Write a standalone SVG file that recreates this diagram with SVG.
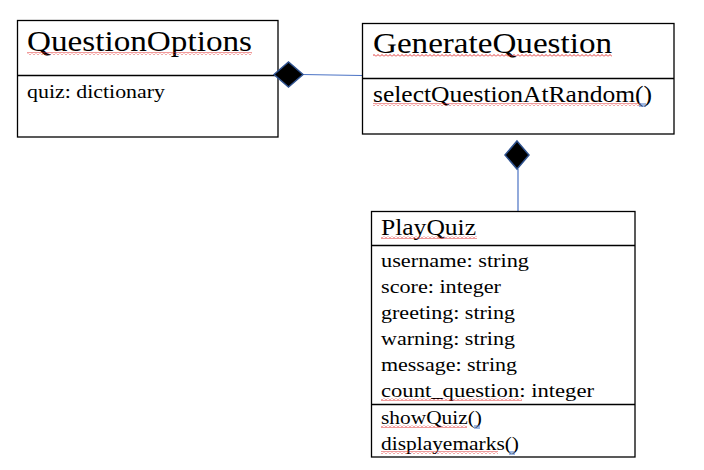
<svg xmlns="http://www.w3.org/2000/svg" width="704" height="470" viewBox="0 0 704 470">
<style>
.box{fill:#fff;stroke:#000;stroke-width:1.3}
.div{stroke:#000;stroke-width:1.3}
.t{font-family:"Liberation Serif","Times New Roman",serif;fill:#000}
.big{font-size:29.5px}
.mid{font-size:23px}
.pq{font-size:24px}
.sm{font-size:19.5px}
.conn{stroke:#4a72c4;stroke-width:1.2;fill:none}
.dia{fill:#000;stroke:#2f528f;stroke-width:1.5}
.sq{fill:url(#wave)}
.bl{stroke:#4472c4;stroke-width:1}
</style>
<defs>
<pattern id="wave" width="4" height="3" patternUnits="userSpaceOnUse">
<path d="M0,2.5 L2,0.5 L4,2.5" stroke="#e02020" stroke-width="0.9" fill="none"/>
</pattern>
</defs>
<rect width="704" height="470" fill="#fff"/>
<g id="connectors">
<line class="conn" x1="302" y1="74.5" x2="362" y2="75.5"/>
<line class="conn" x1="518" y1="169" x2="518" y2="211"/>
</g>
<g id="QuestionOptions">
<rect class="box" x="17.5" y="20.5" width="260.5" height="116.5"/>
<line class="div" x1="17.5" y1="75.5" x2="278" y2="75.5"/>
<text class="t big" x="27" y="51" textLength="225" lengthAdjust="spacingAndGlyphs">QuestionOptions</text>
<rect class="sq" x="27" y="52" width="225" height="3"/>
<text class="t sm" x="27" y="97.5" textLength="138" lengthAdjust="spacingAndGlyphs">quiz: dictionary</text>
</g>
<g id="GenerateQuestion">
<rect class="box" x="362.5" y="23.5" width="311.5" height="110.5"/>
<line class="div" x1="362.5" y1="78.5" x2="674" y2="78.5"/>
<text class="t big" x="373" y="52.5" textLength="239" lengthAdjust="spacingAndGlyphs">GenerateQuestion</text>
<rect class="sq" x="373" y="54" width="239" height="3"/>
<text class="t mid" x="373" y="102" textLength="279" lengthAdjust="spacingAndGlyphs">selectQuestionAtRandom()</text>
<rect class="sq" x="373" y="103" width="268" height="3"/>
<line class="bl" x1="639" y1="104" x2="646" y2="104"/>
<line class="bl" x1="639" y1="106" x2="646" y2="106"/>
</g>
<g id="PlayQuiz">
<rect class="box" x="371.5" y="211.5" width="263.5" height="245.5"/>
<line class="div" x1="371.5" y1="245.5" x2="635" y2="245.5"/>
<line class="div" x1="371.5" y1="404.5" x2="635" y2="404.5"/>
<text class="t pq" x="381" y="235" textLength="95" lengthAdjust="spacingAndGlyphs">PlayQuiz</text>
<rect class="sq" x="381" y="236" width="96" height="3"/>
<text class="t sm" x="381" y="266.5" textLength="148" lengthAdjust="spacingAndGlyphs">username: string</text>
<text class="t sm" x="381" y="292.5" textLength="120" lengthAdjust="spacingAndGlyphs">score: integer</text>
<text class="t sm" x="381" y="318.5" textLength="134" lengthAdjust="spacingAndGlyphs">greeting: string</text>
<text class="t sm" x="381" y="344.5" textLength="134" lengthAdjust="spacingAndGlyphs">warning: string</text>
<text class="t sm" x="381" y="370.5" textLength="136" lengthAdjust="spacingAndGlyphs">message: string</text>
<text class="t sm" x="381" y="396.5" textLength="213" lengthAdjust="spacingAndGlyphs">count_question: integer</text>
<rect class="sq" x="381" y="398" width="141" height="3"/>
<text class="t sm" x="381" y="424" textLength="101" lengthAdjust="spacingAndGlyphs">showQuiz()</text>
<rect class="sq" x="381" y="425" width="86" height="3"/>
<line class="bl" x1="474" y1="426" x2="480" y2="426"/>
<line class="bl" x1="474" y1="428" x2="480" y2="428"/>
<text class="t sm" x="381" y="450" textLength="138" lengthAdjust="spacingAndGlyphs">displayemarks()</text>
<rect class="sq" x="381" y="451" width="117" height="3"/>
<line class="bl" x1="509" y1="452" x2="515" y2="452"/>
<line class="bl" x1="509" y1="454" x2="515" y2="454"/>
</g>
<g id="diamond1">
<polygon class="dia" points="274,74.5 288.5,62 303,74.5 288.5,87"/>
</g>
<g id="diamond2">
<polygon class="dia" points="517,141 529,155 517,169 505,155"/>
</g>
</svg>
